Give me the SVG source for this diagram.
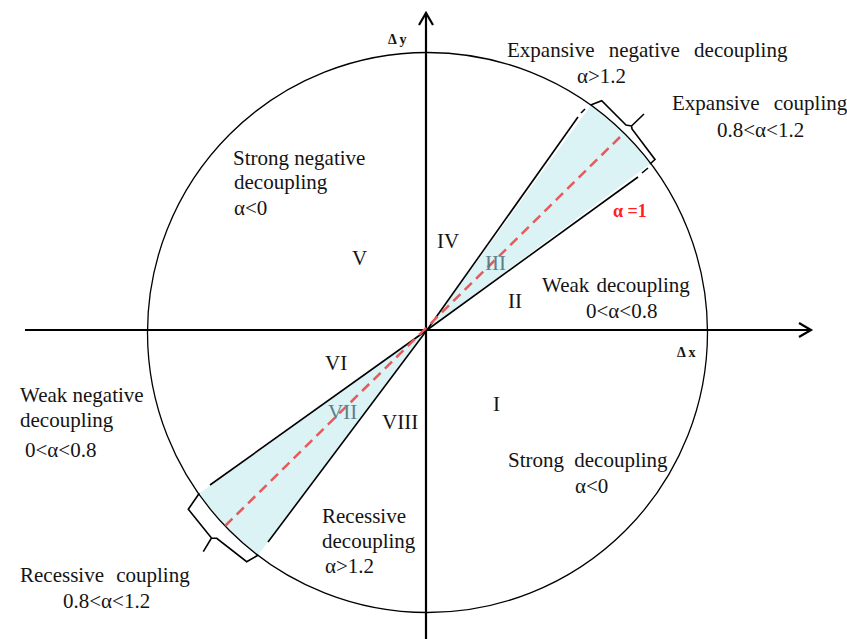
<svg xmlns="http://www.w3.org/2000/svg" width="847" height="639" viewBox="0 0 847 639">
<style>
text{font-family:"Liberation Serif","Times New Roman",serif;font-size:21px;fill:#141414}
.sm{font-size:14px;font-weight:bold}
.rn{fill:#5c8088}
.red{fill:#ff2020;font-size:18px;font-weight:bold}
.ln{stroke:#000;stroke-width:1.6;fill:none}
.ax{stroke:#000;stroke-width:2.2;fill:none}
.fill{fill:#dcf3f6;stroke:none}
</style>
<rect width="847" height="639" fill="#fff"/>
<g id="wedges">
<path class="fill" d="M427,330 L591,105 A280,280 0 0 1 650,164 Z"/>
<path class="fill" d="M427,330 L199.3,493.3 A280,280 0 0 0 258.3,555 Z"/>
</g>
<g id="circle">
<circle cx="427.5" cy="332.5" r="280" fill="none" stroke="#000" stroke-width="1.3"/>
</g>
<g id="connectors">
<line class="ax" x1="25" y1="330" x2="811" y2="330"/>
<polyline class="ax" points="799,323 811,330 799,337"/>
<line class="ax" x1="426" y1="639" x2="426" y2="13"/>
<polyline class="ax" points="419,25 426,13 433,25"/>
<line class="ln" x1="427" y1="330" x2="578" y2="117"/>
<line class="ln" x1="581" y1="113" x2="585" y2="109"/>
<line class="ln" x1="427" y1="330" x2="638" y2="177"/>
<line class="ln" x1="642" y1="173" x2="648" y2="168"/>
<line class="ln" x1="427" y1="330" x2="210" y2="485"/>
<line class="ln" x1="427" y1="330" x2="268" y2="542"/>
<line x1="620" y1="137" x2="224" y2="527" stroke="#e65a5a" stroke-width="2.5" stroke-dasharray="10,6"/>
<path class="ln" d="M590.7,105 L601.7,100.7 L626,125 L631.5,126 L644,114 M631.5,126 L632,129 L655,159.5 L650,164"/>
<path class="ln" d="M199.3,493.3 L188.3,509.3 L211.5,538 L203.3,551.7 M211.5,538 L216.7,538.3 L246.7,561.7 L258.3,555"/>
</g>
<g id="axis-labels">
<text class="sm" x="388" y="44">Δ y</text>
<text class="sm" x="677" y="357">Δ x</text>
</g>
<g id="region-I">
<text x="493" y="411">I</text>
<text x="508" y="467" word-spacing="5">Strong decoupling</text>
<text x="575" y="493">α&lt;0</text>
</g>
<g id="region-II">
<text x="508" y="308">II</text>
<text x="542" y="292" word-spacing="2">Weak decoupling</text>
<text x="586" y="318">0&lt;α&lt;0.8</text>
</g>
<g id="region-III">
<text class="rn" x="485" y="270">III</text>
<text class="red" x="613" y="217">α =1</text>
<text x="672" y="110" word-spacing="9">Expansive coupling</text>
<text x="717" y="137">0.8&lt;α&lt;1.2</text>
</g>
<g id="region-IV">
<text x="437" y="248">IV</text>
<text x="507" y="57" word-spacing="9">Expansive negative decoupling</text>
<text x="577" y="83">α&gt;1.2</text>
</g>
<g id="region-V">
<text x="352" y="265">V</text>
<text x="233" y="165">Strong negative</text>
<text x="234" y="189">decoupling</text>
<text x="234" y="215">α&lt;0</text>
</g>
<g id="region-VI">
<text x="325" y="370">VI</text>
<text x="20" y="402">Weak negative</text>
<text x="20" y="427">decoupling</text>
<text x="25" y="457">0&lt;α&lt;0.8</text>
</g>
<g id="region-VII">
<text class="rn" x="328" y="419">VII</text>
<text x="20" y="582" word-spacing="7">Recessive coupling</text>
<text x="63" y="608">0.8&lt;α&lt;1.2</text>
</g>
<g id="region-VIII">
<text x="382" y="429">VIII</text>
<text x="322" y="523">Recessive</text>
<text x="322" y="548">decoupling</text>
<text x="325" y="573">α&gt;1.2</text>
</g>
</svg>
